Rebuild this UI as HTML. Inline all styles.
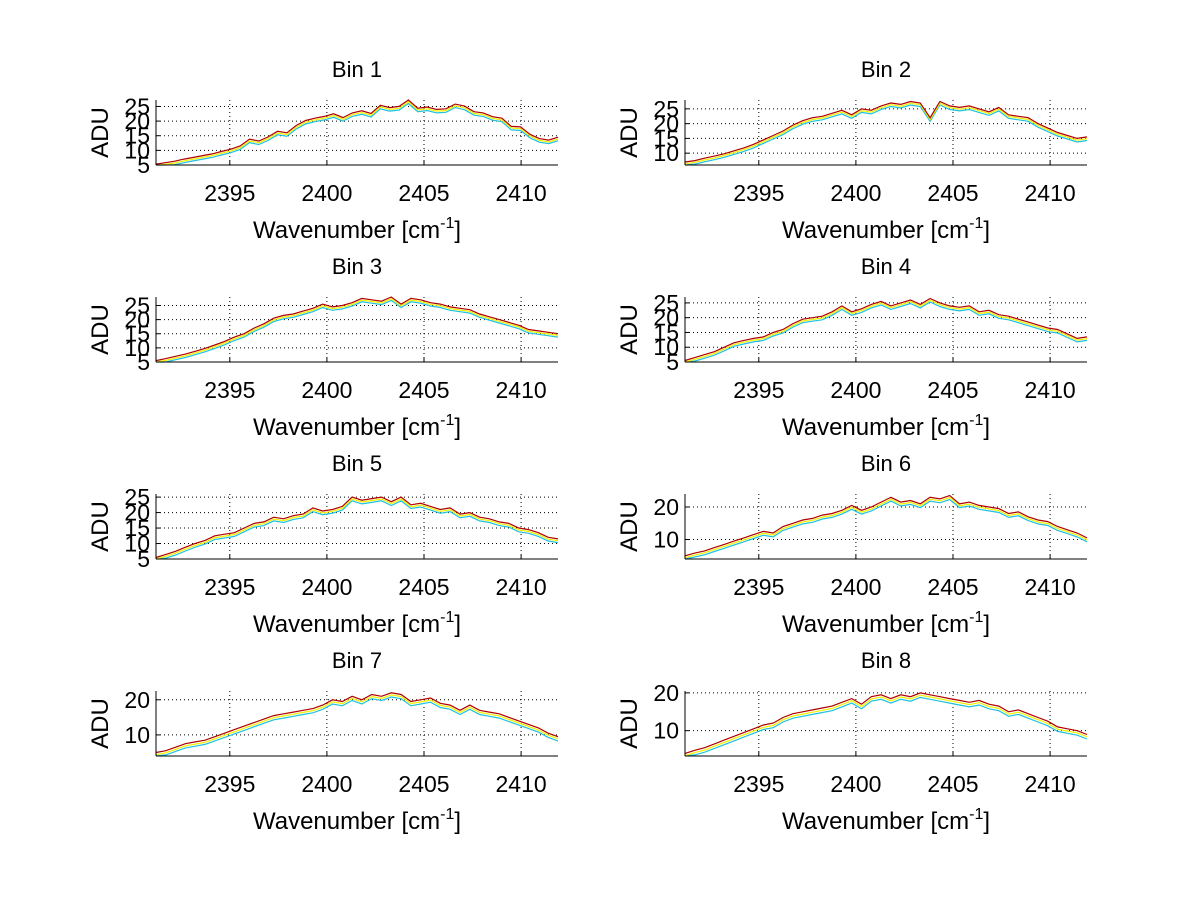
<!DOCTYPE html>
<html><head><meta charset="utf-8"><style>
body{margin:0;background:#fff;}
svg text{font-family:"Liberation Sans",sans-serif;fill:#000;}
</style></head><body>
<svg id="fig" width="1200" height="901" xmlns="http://www.w3.org/2000/svg"></svg>
<script>
const xDomain=[2391.2,2411.9];
const xTicks=[2395,2400,2405,2410];
const binTitles=["Bin 1","Bin 2","Bin 3","Bin 4","Bin 5","Bin 6","Bin 7","Bin 8"];
const yDomains=[[5,27.2],[6,28],[5,28],[5,27],[5,26],[4,24],[4,22.5],[3.3,20.5]];
const yTicksList=[[5,10,15,20,25],[10,15,20,25],[5,10,15,20,25],[5,10,15,20,25],[5,10,15,20,25],[10,20],[10,20],[10,20]];
const seriesOffsets=[0,-0.6,-1.2];
const seriesColors=["#b00000","#f0f000","#20c0e0"];
const bin1=[5.3,5.8,6.3,7.0,7.6,8.2,8.8,9.6,10.4,11.5,13.8,13.2,14.6,16.5,16.0,18.5,20.2,21.0,21.6,22.5,21.2,22.8,23.5,22.6,25.4,24.6,25.0,27.2,24.4,24.8,24.0,24.2,25.8,25.1,23.2,22.8,21.5,21.0,18.2,18.0,15.5,14.0,13.5,14.5];
const bin2=[7.0,7.5,8.3,9.0,9.8,10.8,11.8,13.0,14.5,16.0,17.5,19.5,21.0,22.0,22.5,23.5,24.5,23.0,25.0,24.5,26.0,27.0,26.5,27.5,27.0,22.0,27.5,26.0,25.5,26.0,25.0,24.0,25.5,23.0,22.5,22.0,20.0,18.5,17.0,16.0,15.0,15.5];
const bin3=[5.5,6.2,7.0,7.8,8.8,9.8,11.0,12.3,13.8,15.0,17.0,18.5,20.5,21.5,22.0,23.0,24.0,25.5,24.5,25.0,26.0,27.5,27.0,26.5,28.0,25.5,27.5,27.0,26.0,25.5,24.5,24.0,23.5,22.0,21.0,20.0,19.0,18.0,16.5,16.0,15.5,15.0];
const bin4=[5.5,6.5,7.5,8.5,10.0,11.5,12.3,13.0,13.5,15.0,16.0,18.0,19.5,20.0,20.5,22.0,24.0,22.0,23.0,24.5,25.5,24.0,25.0,26.0,24.5,26.5,25.0,24.0,23.5,24.0,22.0,22.5,21.0,20.5,19.5,18.5,17.5,16.5,16.0,14.5,13.0,13.5];
const bin5=[5.5,6.5,7.5,8.8,10.0,11.0,12.5,13.0,13.5,15.0,16.5,17.0,18.5,18.0,19.0,19.5,21.5,20.5,21.0,22.0,25.0,24.0,24.5,25.0,23.5,25.0,22.5,23.0,22.0,21.0,21.5,19.5,20.0,18.5,18.0,17.0,16.5,15.0,14.5,13.5,12.0,11.5];
const bin6=[5.0,5.8,6.5,7.5,8.5,9.5,10.5,11.5,12.5,12.0,14.0,15.0,16.0,16.5,17.5,18.0,19.0,20.5,19.0,20.0,21.5,23.0,21.5,22.0,21.0,23.0,22.5,23.5,21.0,21.5,20.5,20.0,19.5,18.0,18.5,17.0,16.0,15.5,14.0,13.0,12.0,10.5];
const bin7=[5.0,5.5,6.5,7.5,8.0,8.5,9.5,10.5,11.5,12.5,13.5,14.5,15.5,16.0,16.5,17.0,17.5,18.5,20.0,19.5,21.0,20.0,21.5,21.0,22.0,21.5,19.5,20.0,20.5,19.0,18.5,17.0,18.5,17.0,16.5,16.0,15.0,14.0,13.0,12.0,10.5,9.5];
const bin8=[4.0,4.8,5.5,6.5,7.5,8.5,9.5,10.5,11.5,12.0,13.5,14.5,15.0,15.5,16.0,16.5,17.5,18.5,17.0,19.0,19.5,18.5,19.5,19.0,20.0,19.5,19.0,18.5,18.0,17.5,18.0,17.0,16.5,15.0,15.5,14.5,13.5,12.5,11.0,10.5,10.0,9.0];
const binData=[bin1,bin2,bin3,bin4,bin5,bin6,bin7,bin8];

const NS="http://www.w3.org/2000/svg";
const svg=document.getElementById('fig');
function mk(tag,attrs,parent){const e=document.createElementNS(NS,tag);for(const k in attrs)e.setAttribute(k,attrs[k]);(parent||svg).appendChild(e);return e;}
const colX=[156,685], rowTop=[100,297,494,691], W=402, H=65;
binData.forEach((vals,b)=>{
  const col=b%2,row=Math.floor(b/2);
  const L=colX[col],T=rowTop[row],B=T+H,R=L+W;
  const yd=yDomains[b];
  const sx=v=>L+(v-xDomain[0])/(xDomain[1]-xDomain[0])*W;
  const sy=v=>B-(v-yd[0])/(yd[1]-yd[0])*H;
  const g=mk('g',{});
  
  
  xTicks.forEach(t=>{
    const x=sx(t);
    const gl=mk('line',{x1:x,x2:x,y1:T,y2:B,stroke:'#000','stroke-width':1,'stroke-dasharray':'1,3'},g);
    
    
    mk('line',{x1:x,x2:x,y1:B,y2:B-4,stroke:'#000'},g);
    const tl=mk('text',{x:x,y:B+36,'text-anchor':'middle','font-size':23},g);
    tl.textContent=t;
    
    
  });
  yTicksList[b].forEach(t=>{
    const y=sy(t);
    const gl=mk('line',{x1:L,x2:R,y1:y,y2:y,stroke:'#000','stroke-width':1,'stroke-dasharray':'1,3'},g);
    
    
    mk('line',{x1:L,x2:L+4,y1:y,y2:y,stroke:'#000'},g);
    const tl=mk('text',{x:L-6,y:y+8,'text-anchor':'end','font-size':23},g);
    tl.textContent=t;
    
    
  });
  seriesOffsets.slice().reverse().forEach((off,i)=>{
    const ci=seriesOffsets.length-1-i;
    const pts=vals.map((v,k)=>{const x=xDomain[0]+k*(xDomain[1]-xDomain[0])/(vals.length-1);return sx(x).toFixed(1)+','+sy(Math.max(yd[0],v+off)).toFixed(1);}).join(' ');
    const pl=mk('polyline',{points:pts,fill:'none',stroke:seriesColors[ci],'stroke-width':1.2},g);
    
    
  });
  mk('line',{x1:L,x2:L,y1:T,y2:B,stroke:'#000'},g);
  mk('line',{x1:L,x2:R,y1:B,y2:B,stroke:'#000'},g);
  const tt=mk('text',{x:L+W/2,y:T-23,'text-anchor':'middle','font-size':22},g);
  tt.textContent=binTitles[b];
  
  
  const xl=mk('text',{x:L+W/2,y:B+73,'text-anchor':'middle','font-size':24},g);
  xl.innerHTML='Wavenumber [cm<tspan dy="-10" font-size="16">-1</tspan><tspan dy="10">]</tspan>';
  
  
  const yl=mk('text',{x:0,y:0,'text-anchor':'middle','font-size':24,transform:`translate(${L-48},${T+H/2}) rotate(-90)`},g);
  yl.textContent='ADU';
  
  
});
</script>
</body></html>
